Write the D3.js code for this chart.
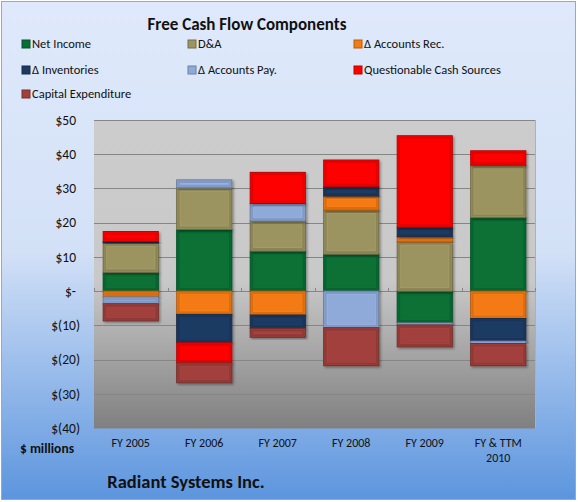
<!DOCTYPE html>
<html><head><meta charset="utf-8">
<script src="https://cdn.jsdelivr.net/npm/d3@7"></script>
<style>
html,body{margin:0;padding:0;background:#fff;}
svg{display:block;font-family:Carlito,Lato,"Open Sans",sans-serif;}
</style></head>
<body><svg id="c" width="578" height="502"></svg>
<script>
const categories = ["FY 2005","FY 2006","FY 2007","FY 2008","FY 2009","FY & TTM 2010"];
const seriesNames = ["Net Income","D&A","\u0394 Accounts Rec.","\u0394 Inventories","\u0394 Accounts Pay.","Questionable Cash Sources","Capital Expenditure"];
const netIncome = [5.5, 18.0, 11.7, 10.8, -9.3, 21.5];
const dna = [8.6, 12.2, 8.8, 12.9, 14.4, 15.3];
const accountsRec = [-1.7, -6.8, -7.0, 4.1, 1.5, -8.0];
const inventories = [0.4, -8.3, -3.9, 2.7, 2.8, -6.6];
const accountsPay = [-2.0, 2.3, 5.1, -10.7, -0.6, -0.7];
const questionable = [2.9, -5.9, 9.1, 7.8, 26.7, 4.2];
const capex = [-5.0, -5.8, -2.6, -11.1, -6.4, -6.5];
const yTicks = [-40,-30,-20,-10,0,10,20,30,40,50];
const colors = ["#076f36","#9c9461","#f47a12","#1d3a63","#8faad9","#ff0000","#a1403c"];

const seriesValues = [netIncome,dna,accountsRec,inventories,accountsPay,questionable,capex];
const table = categories.map((c,i)=>{const o={cat:c}; seriesNames.forEach((s,j)=>o[s]=seriesValues[j][i]); return o;});

const svg = d3.select("#c");
const defs = svg.append("defs");
const bg = defs.append("linearGradient").attr("id","bg").attr("x1",0).attr("y1",0).attr("x2",0).attr("y2",1);
bg.append("stop").attr("offset","0%").attr("stop-color","#dfe9fb");
bg.append("stop").attr("offset","50%").attr("stop-color","#d3e1f7");
bg.append("stop").attr("offset","100%").attr("stop-color","#5c95de");
const pg = defs.append("linearGradient").attr("id","pg").attr("x1",0).attr("y1",0).attr("x2",0).attr("y2",1);
pg.append("stop").attr("offset","0%").attr("stop-color","#cccccc");
pg.append("stop").attr("offset","52%").attr("stop-color","#c9c9c9");
pg.append("stop").attr("offset","100%").attr("stop-color","#808080");
const sh = defs.append("filter").attr("id","sh").attr("x","-20%").attr("y","-20%").attr("width","140%").attr("height","140%");
sh.append("feDropShadow").attr("dx",1.5).attr("dy",1.5).attr("stdDeviation",1.2).attr("flood-color","#000").attr("flood-opacity",0.35);

svg.append("rect").attr("x",1.5).attr("y",1.5).attr("width",574).attr("height",498)
  .attr("fill","url(#bg)").attr("stroke","#a6a6a6").attr("stroke-width",1);

const x = d3.scaleBand().domain(categories).range([94,535]).paddingInner(0.25).paddingOuter(0.125);
const y = d3.scaleLinear().domain([-40,50]).range([428,120]);

svg.append("rect").attr("x",94).attr("y",y(50)).attr("width",441).attr("height",y(-40)-y(50)).attr("fill","url(#pg)");

// gridlines
svg.append("g").selectAll("line").data(yTicks).join("line")
  .attr("x1",94).attr("x2",535).attr("y1",d=>Math.round(y(d))+0.5).attr("y2",d=>Math.round(y(d))+0.5)
  .attr("stroke","#868686").attr("stroke-width",1).attr("opacity",d=>d===-40?0.5:1);
svg.append("line").attr("x1",535.5).attr("x2",535.5).attr("y1",y(50)).attr("y2",y(-40)).attr("stroke","#b0b0b0");

// category tick marks at zero
const step = x.step();
const bounds = d3.range(categories.length+1).map(i=>94+i*step);
svg.append("g").selectAll("line").data(bounds).join("line")
  .attr("x1",d=>Math.round(d)+0.5).attr("x2",d=>Math.round(d)+0.5)
  .attr("y1",Math.round(y(0))-3).attr("y2",Math.round(y(0))+0.5).attr("stroke","#868686");

// stacked bars
const stack = d3.stack().keys(seriesNames).offset(d3.stackOffsetDiverging);
const stacked = stack(table);
const gBars = svg.append("g");
stacked.forEach((layer,j)=>{
  const col = d3.color(colors[j]);
  layer.forEach(seg=>{
    const y0 = y(seg[1]), y1 = y(seg[0]);
    const top = Math.min(y0,y1), h = Math.abs(y1-y0);
    if (h < 0.1) return;
    const bx = x(seg.data.cat), bw = x.bandwidth();
    const g = gBars.append("g");
    g.append("rect").attr("x",bx).attr("y",top).attr("width",bw).attr("height",h)
      .attr("fill",colors[j]).attr("stroke",col.darker(0.9)).attr("stroke-width",1).attr("filter","url(#sh)");
    if (h > 5) {
      g.append("rect").attr("x",bx+2).attr("y",top+2).attr("width",bw-4).attr("height",h-4)
        .attr("fill","none").attr("stroke",col.darker(0.45)).attr("stroke-width",2).attr("opacity",0.7);
      g.append("rect").attr("x",bx+3.5).attr("y",top+3.5).attr("width",bw-7).attr("height",Math.max(0,h-7))
        .attr("fill","none").attr("stroke",col.brighter(0.3)).attr("stroke-width",0.8).attr("opacity",0.5);
    }
  });
});

// y axis labels
const fmt = d=> d===0 ? "$-" : d>0 ? "$"+d : "$("+(-d)+")";
svg.append("g").selectAll("text").data(yTicks).join("text")
  .attr("x",d=>d<0?80:76).attr("y",d=>y(d)).attr("dy","0.35em").attr("text-anchor","end")
  .attr("font-size",13.5).attr("fill","#111").text(fmt);

// x axis labels
const xl = svg.append("g");
categories.forEach(c=>{
  const cx = x(c)+x.bandwidth()/2;
  const t = xl.append("text").attr("x",cx).attr("y",447).attr("text-anchor","middle").attr("font-size",12).attr("fill","#111");
  if (c === "FY & TTM 2010") {
    t.append("tspan").attr("x",cx).text("FY & TTM");
    t.append("tspan").attr("x",cx).attr("dy",15).text("2010");
  } else t.text(c);
});

svg.append("text").attr("x",47).attr("y",453).attr("text-anchor","middle").attr("font-size",13.5).attr("font-weight","bold").attr("fill","#111").text("$ millions");
svg.append("text").attr("x",247).attr("y",30).attr("text-anchor","middle").attr("font-size",17).attr("font-weight","bold").attr("fill","#111").text("Free Cash Flow Components");
svg.append("text").attr("x",186).attr("y",488).attr("text-anchor","middle").attr("font-size",18.5).attr("font-weight","bold").attr("fill","#111").text("Radiant Systems Inc.");

// legend
const legPos = [[22,44],[188,44],[354,44],[22,70],[188,70],[354,70],[22,94]];
const leg = svg.append("g");
seriesNames.forEach((s,j)=>{
  const [lx,ly] = legPos[j];
  const col = d3.color(colors[j]);
  leg.append("rect").attr("x",lx).attr("y",ly-4).attr("width",8).attr("height",8)
    .attr("fill",colors[j]).attr("stroke",col.darker(0.8)).attr("stroke-width",1);
  leg.append("text").attr("x",lx+10).attr("y",ly).attr("dy","0.35em").attr("font-size",12.5).attr("fill","#111").text(s);
});
</script></body></html>
